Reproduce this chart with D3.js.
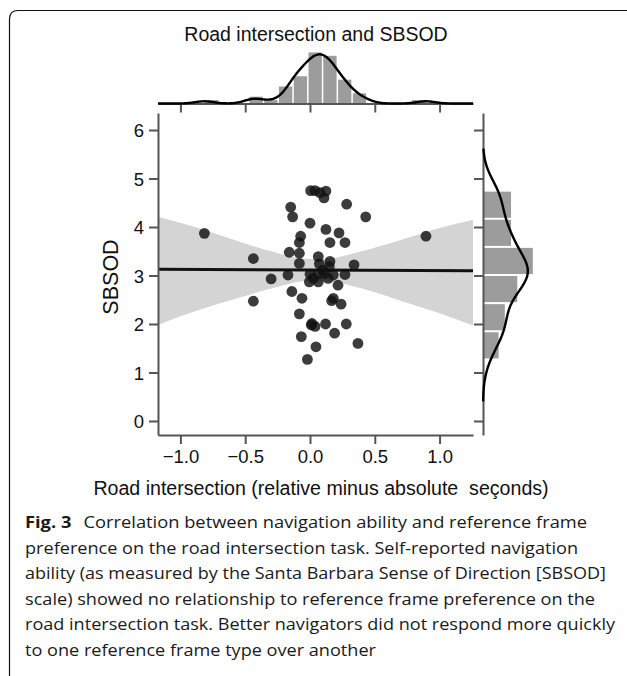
<!DOCTYPE html>
<html><head><meta charset="utf-8">
<script src="https://cdn.jsdelivr.net/npm/d3@7"></script>
<style>body{margin:0;background:#fff} svg{display:block}</style>
</head><body><svg id="c" width="627" height="676"></svg>
<script>
// ---- data ----
const pointsX = [-0.815,-0.437,-0.437,-0.30,-0.149,-0.134,0.0,-0.072,-0.082,-0.16,-0.082,-0.082,-0.17,-0.14,-0.062,-0.082,-0.067,-0.02,0.046,0.015,0.01,0.039,0.12,0.19,0.28,0.37,0.24,0.167,0.18,0.216,0.27,0.34,0.43,0.283,0.123,0.108,0.077,0.005,0.039,0.123,0.154,0.224,0.27,0.064,0.072,0.154,0.149,0.0,0.026,-0.005,0.064,0.108,0.18,0.14,0.10,0.895,0.064];
const pointsY = [3.87,3.35,2.47,2.93,4.41,4.21,4.08,3.81,3.68,3.48,3.46,3.25,3.01,2.67,2.53,2.21,1.74,1.27,1.53,2.01,1.98,1.95,2.0,1.81,2.0,1.60,2.41,2.48,2.53,2.80,3.02,3.22,4.21,4.47,4.74,4.60,4.71,4.75,4.75,3.95,3.68,3.88,3.68,3.39,3.24,3.29,3.18,3.03,2.94,2.87,2.87,3.04,3.01,2.94,3.11,3.81,3.04];
const xTicks = [-1, -0.5, 0, 0.5, 1];
const xTickLabels = ["\u22121.0", "\u22120.5", "0.0", "0.5", "1.0"];
const yTicks = [0, 1, 2, 3, 4, 5, 6];
const yTickLabels = ["0", "1", "2", "3", "4", "5", "6"];
const fitX = [-1.173, 1.258];
const fitY = [3.13, 3.10];
const bandX    = [-1.173, -0.9, -0.6, -0.3, 0.0, 0.05, 0.1, 0.4, 0.7, 1.0, 1.258];
const bandLow  = [1.98, 2.25, 2.50, 2.73, 2.89, 2.89, 2.89, 2.73, 2.48, 2.22, 1.97];
const bandHigh = [4.21, 4.01, 3.75, 3.50, 3.34, 3.34, 3.34, 3.50, 3.73, 3.98, 4.15];
const titleText = "Road intersection and SBSOD";
const xTitle = "Road intersection (relative minus absolute  se\u00e7onds)";
const yTitle = "SBSOD";
const captionLabel = "Fig. 3";
const captionLines = [
  "Correlation between navigation ability and reference frame",
  "preference on the road intersection task. Self-reported navigation",
  "ability (as measured by the Santa Barbara Sense of Direction [SBSOD]",
  "scale) showed no relationship to reference frame preference on the",
  "road intersection task. Better navigators did not respond more quickly",
  "to one reference frame type over another"
];
// measured line lengths of the caption in the picture (px)
const captionWidths = [562, 553, 581, 570, 590, 351];

// ---- helpers ----
function nrd0(v) {
  const s = [...v].sort(d3.ascending);
  const sd = d3.deviation(s);
  const iqr = d3.quantileSorted(s, 0.75) - d3.quantileSorted(s, 0.25);
  return 0.9 * Math.min(sd, iqr / 1.34) * Math.pow(s.length, -0.2);
}
function kde(v, lo, hi, steps, cut) {
  const h = nrd0(v), n = v.length;
  const a = d3.min(v) - cut * h, b = d3.max(v) + cut * h;
  const from = Math.max(lo, a), to = Math.min(hi, b);
  return d3.range(steps + 1).map(i => {
    const t = from + (to - from) * i / steps;
    const d = d3.sum(v, xi => Math.exp(-0.5 * ((t - xi) / h) ** 2)) / (n * h * Math.sqrt(2 * Math.PI));
    return [t, d];
  });
}
function histo(v, nb) {
  const [mn, mx] = d3.extent(v);
  const w = (mx - mn) / nb;
  const th = d3.range(1, nb).map(i => mn + i * w);
  const bins = d3.bin().domain([mn, mx]).thresholds(th)(v);
  bins.forEach(b => b.dens = b.length / (v.length * w));
  return bins;
}

const svg = d3.select("#c");
const FONT = "'Liberation Sans', Arial, Helvetica, sans-serif";
const axisCol = "#555";

// frame
svg.append("path").attr("d", "M9.5,676 V19 Q9.5,10.5 18,10.5 H627")
  .attr("fill", "none").attr("stroke", "#111").attr("stroke-width", 1.2);

const x = d3.scaleLinear().domain([-1.173, 1.258]).range([158, 473]);
const y = d3.scaleLinear().domain([-0.289, 6.351]).range([435, 113]);

// band
svg.append("path")
  .datum(bandX.map((v, i) => [v, bandLow[i], bandHigh[i]]))
  .attr("fill", "#d4d4d4")
  .attr("d", d3.area().x(d => x(d[0])).y0(d => y(d[1])).y1(d => y(d[2])).curve(d3.curveMonotoneX));

// regression line
svg.append("path").datum(fitX.map((v, i) => [v, fitY[i]]))
  .attr("fill", "none").attr("stroke", "#111").attr("stroke-width", 3)
  .attr("d", d3.line().x(d => x(d[0])).y(d => y(d[1])));

// points
svg.append("g").selectAll("circle").data(pointsX.map((v, i) => [v, pointsY[i]]))
  .join("circle").attr("cx", d => x(d[0])).attr("cy", d => y(d[1])).attr("r", 5.4)
  .attr("fill", "#111").attr("fill-opacity", 0.82);

// axes
function styleAxis(g) {
  g.selectAll(".domain").attr("stroke", axisCol).attr("stroke-width", 2);
  g.selectAll(".tick line").attr("stroke", axisCol).attr("stroke-width", 2);
  g.selectAll(".tick text").attr("fill", "#111").style("font-family", FONT).style("font-size", "18.5px");
}
svg.append("g").attr("transform", "translate(158,0)")
  .call(d3.axisLeft(y).tickValues(yTicks).tickFormat((d, i) => yTickLabels[i]).tickSize(9).tickSizeOuter(0).tickPadding(5))
  .call(styleAxis).call(g => g.selectAll(".tick text").attr("dy", "0.36em"));
svg.append("g").attr("transform", "translate(0,435)")
  .call(d3.axisBottom(x).tickValues(xTicks).tickFormat((d, i) => xTickLabels[i]).tickSize(9).tickSizeOuter(0).tickPadding(6))
  .call(styleAxis);

// top margin
const topY = d3.scaleLinear().domain([0, 2.5]).range([103.5, 48.2]);
const topBins = histo(pointsX, 15);
svg.append("g").selectAll("rect").data(topBins).join("rect")
  .attr("x", d => x(d.x0) + 0.75).attr("width", d => Math.max(0, x(d.x1) - x(d.x0) - 1.5))
  .attr("y", d => topY(d.dens)).attr("height", d => topY(0) - topY(d.dens))
  .attr("fill", "#9c9c9c");
svg.append("g").attr("transform", "translate(0,103.5)")
  .call(d3.axisBottom(x).tickValues(xTicks).tickFormat("").tickSize(9).tickSizeOuter(0))
  .call(styleAxis);
svg.append("path").datum(kde(pointsX, x.domain()[0], x.domain()[1], 260, 10))
  .attr("fill", "none").attr("stroke", "#000").attr("stroke-width", 2.4)
  .attr("d", d3.line().x(d => x(d[0])).y(d => topY(d[1])).curve(d3.curveBasis));

// right margin
const rightX = d3.scaleLinear().domain([0, 0.5]).range([483, 534.5]);
const rightBins = histo(pointsY, 6);
svg.append("g").selectAll("rect").data(rightBins).join("rect")
  .attr("y", d => y(d.x1) + 1).attr("height", d => Math.max(0, y(d.x0) - y(d.x1) - 2))
  .attr("x", rightX(0)).attr("width", d => rightX(d.dens) - rightX(0))
  .attr("fill", "#9c9c9c");
svg.append("g").attr("transform", "translate(483,0)")
  .call(d3.axisLeft(y).tickValues(yTicks).tickFormat("").tickSize(9).tickSizeOuter(0))
  .call(styleAxis);
svg.append("path").datum(kde(pointsY, y.domain()[0], y.domain()[1], 240, 2.4))
  .attr("fill", "none").attr("stroke", "#000").attr("stroke-width", 2.4)
  .attr("d", d3.line().x(d => rightX(d[1])).y(d => y(d[0])).curve(d3.curveBasis));

// titles
svg.append("text").attr("x", 316).attr("y", 40.5).attr("text-anchor", "middle")
  .style("font-family", FONT).style("font-size", "19.5px").attr("fill", "#111").text(titleText);
svg.append("text").attr("x", 321).attr("y", 495).attr("text-anchor", "middle")
  .style("font-family", FONT).style("font-size", "19.6px").style("white-space", "pre").attr("fill", "#111").text(xTitle);
svg.append("text").attr("transform", "translate(118,277) rotate(-90)").attr("text-anchor", "middle")
  .style("font-family", FONT).style("font-size", "21.5px").attr("fill", "#111").text(yTitle);

// caption
const CF = "'Open Sans', 'Noto Sans', sans-serif";
const cap = svg.append("g").style("font-family", CF).style("font-size", "16.5px").attr("fill", "#1a1a1a");
captionLines.forEach((line, i) => {
  const t = cap.append("text").attr("x", 25).attr("y", 528 + i * 25.5)
    .attr("textLength", captionWidths[i]).attr("lengthAdjust", "spacingAndGlyphs");
  if (i === 0) {
    t.append("tspan").style("font-weight", "bold").text(captionLabel);
    t.append("tspan").attr("dx", 11).text(line);
  } else t.text(line);
});
</script></body></html>
